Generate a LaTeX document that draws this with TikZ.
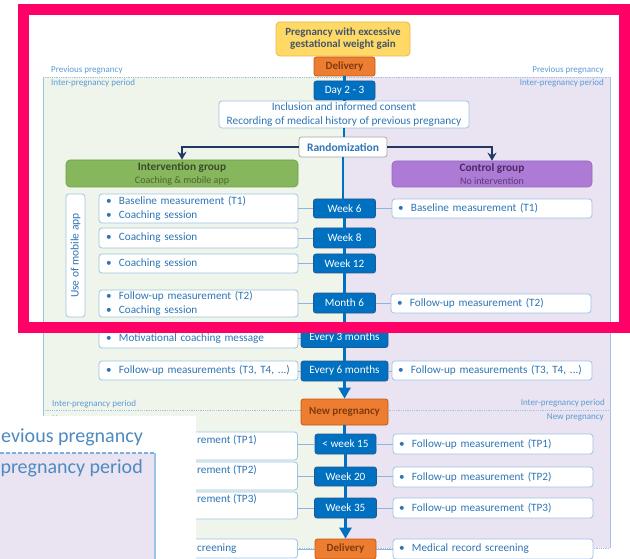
\documentclass[tikz,border=0pt]{standalone}
\usepackage{fontspec}
\setmainfont{Carlito}
\usetikzlibrary{arrows.meta}
\definecolor{pinkc}{HTML}{FF0066}
\definecolor{txtblue}{HTML}{2E75B6}
\definecolor{lblblue}{HTML}{5B9BD5}
\definecolor{bxborder}{HTML}{9DC3E6}
\definecolor{wkfill}{HTML}{0070C0}
\definecolor{wkborder}{HTML}{215A93}
\definecolor{orfill}{HTML}{ED7D31}
\definecolor{orborder}{HTML}{C55A11}
\definecolor{ortext}{HTML}{7F3A0E}
\definecolor{yefill}{HTML}{FFD966}
\definecolor{yeborder}{HTML}{EDB64F}
\definecolor{toptext}{HTML}{44546A}
\definecolor{navy}{HTML}{203864}
\definecolor{greenbg}{HTML}{EFF5EA}
\definecolor{purplebg}{HTML}{EAE4F2}
\definecolor{igfill}{HTML}{86B75C}
\definecolor{igborder}{HTML}{6E9E48}
\definecolor{igtitle}{HTML}{3B4A2C}
\definecolor{igsub}{HTML}{4D6433}
\definecolor{cgfill}{HTML}{AD7BD6}
\definecolor{cgborder}{HTML}{9566BF}
\definecolor{cgtitle}{HTML}{4B2A63}
\definecolor{cgsub}{HTML}{5A3B73}
\definecolor{connc}{HTML}{8FB4DD}
\newcommand\fsz[2]{\fontsize{#1}{#2}\selectfont}
\newcommand\bul{\makebox[13pt][l]{\textbullet}}
\begin{document}
\begin{tikzpicture}[x=1pt,y=-1pt,
  wbox/.style={draw=bxborder, fill=white, rounded corners=3pt, line width=0.8pt, inner sep=0pt, text=txtblue},
  lbox/.style={wbox, text width=185pt, inner xsep=7pt, align=left, font=\fsz{11.2}{14}},
  rbox/.style={wbox, text width=188pt, inner xsep=6pt, align=left, font=\fsz{11.2}{14}},
  cbox/.style={wbox, align=center, font=\fsz{11.3}{14}},
  frag/.style={text=txtblue, inner sep=0pt, font=\fsz{11.2}{14}},
  wkbox/.style={draw=wkborder, fill=wkfill, rounded corners=2.5pt, line width=0.8pt, inner sep=0pt, text=white, font=\fsz{11.2}{12}},
  orbox/.style={draw=orborder, fill=orfill, rounded corners=2.5pt, line width=0.8pt, inner sep=0pt, text=ortext, font=\bfseries\fsz{11}{12}},
  topbox/.style={draw=yeborder, fill=yefill, rounded corners=4pt, line width=0.8pt, inner sep=0pt, text=toptext, align=center, font=\bfseries\fsz{11}{12}},
  randbox/.style={draw=black!35, fill=white, rounded corners=2.5pt, line width=0.8pt, inner sep=0pt, text=txtblue, font=\bfseries\fsz{11.5}{12}},
  lbl/.style={text=lblblue, inner sep=0pt, font=\fsz{9}{10}},
  dotline/.style={draw=bxborder, line width=0.8pt, densely dotted},
  periodline/.style={draw=bxborder, line width=0.9pt},
  mainline/.style={draw=wkfill, line width=2.6pt},
  navyarrow/.style={draw=navy, line width=2pt, -{Stealth[length=8pt,width=9pt]}},
  conn/.style={draw=connc, line width=0.8pt},
  insettxt/.style={text=txtblue!85, inner sep=0pt, font=\fsz{20}{22}}
]
\useasboundingbox (0,0) rectangle (630,559);
\fill[white] (0,0) rectangle (630,559);
% period backgrounds
\fill[greenbg] (43,77) rectangle (344,548);
\fill[purplebg] (344,77) rectangle (610,548);
\draw[periodline] (43,77) -- (43,548);
\draw[periodline] (610,77) -- (610,548);
\draw[dotline] (43,77) -- (610,77);
\draw[dotline] (43,410) -- (610,410);
\draw[dotline] (43,548) -- (610,548);
% period labels
\node[lbl, anchor=west] (pl1) at (51,70) {Previous pregnancy};
\node[lbl, anchor=east] (pr1) at (604,70) {Previous pregnancy};
\node[lbl, anchor=west] (pl2) at (51,83) {Inter-pregnancy period};
\node[lbl, anchor=east] (pr2) at (604,83) {Inter-pregnancy period};
\node[lbl, anchor=west] (pl3) at (52,404) {Inter-pregnancy period};
\node[lbl, anchor=east] (pr3) at (605,403) {Inter-pregnancy period};
\node[lbl, anchor=west] (pl4) at (52,419) {New pregnancy};
\node[lbl, anchor=east] (pr4) at (604,417) {New pregnancy};
% top nodes
\node[topbox, minimum width=134pt, minimum height=34pt] (top) at (343,39) {Pregnancy with excessive\\gestational weight gain};
\node[orbox, minimum width=61pt, minimum height=19pt] (del1) at (344.5,66.5) {Delivery};
\node[wkbox, minimum width=61pt, minimum height=19pt] (day) at (344.5,90.5) {Day 2 - 3};
\node[cbox, minimum width=250pt, minimum height=27pt] (incl) at (344,114.5) {Inclusion and informed consent\\Recording of medical history of previous pregnancy};
\node[randbox, minimum width=88pt, minimum height=20pt] (rand) at (343,147) {Randomization};
% groups
\node[draw=igborder, fill=igfill, rounded corners=4pt, line width=0.6pt, minimum width=232pt, minimum height=27pt, inner sep=0pt, align=center, font=\fsz{11.3}{13}] (ig) at (182,173.5) {\textcolor{igtitle}{\bfseries Intervention group}\\\textcolor{igsub}{\fsz{10}{13}Coaching \& mobile app}};
\node[draw=cgborder, fill=cgfill, rounded corners=4pt, line width=0.6pt, minimum width=200pt, minimum height=26pt, inner sep=0pt, align=center, font=\fsz{11.3}{13}] (cg) at (492,174) {\textcolor{cgtitle}{\bfseries Control group}\\\textcolor{cgsub}{\fsz{10}{13}No intervention}};
\node[wbox, rotate=90, minimum width=123pt, minimum height=19pt, font=\fsz{11.5}{12}] (app) at (75.5,255.5) {Use of mobile app};
% left boxes
\node[lbox, minimum height=29pt] (l1) at (198.5,208.5) {\bul Baseline measurement (T1)\\\bul Coaching session};
\node[lbox, minimum height=20pt] (l2) at (198.5,238) {\bul Coaching session};
\node[lbox, minimum height=19pt] (l3) at (198.5,263.5) {\bul Coaching session};
\node[lbox, minimum height=27pt] (l4) at (198.5,303.5) {\bul Follow-up measurement (T2)\\\bul Coaching session};
\node[lbox, minimum height=19pt] (l5) at (198.5,338.5) {\bul Motivational coaching message};
\node[lbox, minimum height=19pt] (l6) at (198.5,370.5) {\bul Follow-up measurements (T3, T4, ...)};
\node[lbox, minimum height=28pt] (l7) at (198,446) {};
\node[lbox, minimum height=28pt] (l8) at (198,476) {};
\node[lbox, minimum height=27pt] (l9) at (198,505.5) {};
\node[lbox, minimum height=19pt] (l10) at (198,548.5) {};
% center boxes
\node[wkbox, minimum width=62pt, minimum height=19pt] (wk6) at (344.5,208.5) {Week 6};
\node[wkbox, minimum width=62pt, minimum height=20pt] (wk8) at (344.5,238) {Week 8};
\node[wkbox, minimum width=62pt, minimum height=19pt] (wk12) at (344.5,263.5) {Week 12};
\node[wkbox, minimum width=62pt, minimum height=20pt] (m6) at (344.5,303) {Month 6};
\node[wkbox, minimum width=87pt, minimum height=19pt] (e3) at (344.5,338) {Every 3 months};
\node[wkbox, minimum width=87pt, minimum height=20pt] (e6) at (344.5,371) {Every 6 months};
\node[orbox, minimum width=87pt, minimum height=26pt] (newp) at (344.5,412) {New pregnancy};
\node[wkbox, minimum width=61pt, minimum height=20pt] (wk15) at (345.5,444) {\textless{} week 15};
\node[wkbox, minimum width=62pt, minimum height=19pt] (wk20) at (345.5,476.5) {Week 20};
\node[wkbox, minimum width=62pt, minimum height=20pt] (wk35) at (345.5,508) {Week 35};
\node[orbox, minimum width=61pt, minimum height=20pt] (del2) at (345.5,549) {Delivery};
% right boxes
\node[rbox, minimum height=19pt] (r1) at (492,208.5) {\bul Baseline measurement (T1)};
\node[rbox, minimum height=19pt] (r2) at (491,303.5) {\bul Follow-up measurement (T2)};
\node[rbox, minimum height=19pt] (r3) at (492,370.5) {\bul Follow-up measurements (T3, T4, ...)};
\node[rbox, minimum height=20pt] (r4) at (493,444) {\bul Follow-up measurement (TP1)};
\node[rbox, minimum height=20pt] (r5) at (493,477) {\bul Follow-up measurement (TP2)};
\node[rbox, minimum height=20pt] (r6) at (493,508) {\bul Follow-up measurement (TP3)};
\node[rbox, minimum height=20pt] (r7) at (493,549) {\bul Medical record screening};
% central timeline
\foreach \a/\b in {del1/day, day/incl, incl/rand, rand/wk6, wk6/wk8, wk8/wk12, wk12/m6, m6/e3, e3/e6, newp/wk15, wk15/wk20, wk20/wk35}
  \draw[mainline] (\a.south) -- (\a.south |- \b.north);
\draw[mainline, -{Triangle[length=11pt,width=12pt]}] (e6.south) -- (e6.south |- newp.north);
\draw[mainline, -{Triangle[length=11pt,width=12pt]}] (wk35.south) -- (wk35.south |- del2.north);
% randomization arrows
\draw[navyarrow] (rand.west) -| (ig.north);
\draw[navyarrow] (rand.east) -| (cg.north);
% connectors
\foreach \a/\b in {l1/wk6, l2/wk8, l3/wk12, l4/m6, l5/e3, l6/e6, l7/wk15, l8/wk20, l9/wk35, l10/del2}
  \draw[conn] (\b.west) -- (\b.west -| \a.east);
\foreach \a/\b in {wk6/r1, m6/r2, e6/r3, wk15/r4, wk20/r5, wk35/r6, del2/r7}
  \draw[conn] (\a.east) -- (\a.east -| \b.west);
% zoom inset overlay
\fill[white] (0,416) rectangle (196,559);
\fill[purplebg] (0,453) rectangle (155,559);
\draw[draw=lblblue!80, line width=1.5pt, dash pattern=on 4pt off 2pt] (0,453) -- (155,453);
\draw[draw=bxborder, line width=1.5pt] (155,453) -- (155,559);
\node[insettxt, anchor=east] (insA) at (143,437) {evious pregnancy};
\node[insettxt, anchor=east] (insB) at (143,468) {pregnancy period};
% visible fragments of the partly covered boxes
\node[frag, anchor=west] (f7) at (197,440) {rement (TP1)};
\node[frag, anchor=west] (f8) at (197,470) {rement (TP2)};
\node[frag, anchor=west] (f9) at (197,499) {rement (TP3)};
\node[frag, anchor=west] (f10) at (197,548.5) {creening};
% highlight frame
\draw[pinkc, line width=11.5pt] (23.25,9.75) rectangle (624.5,327.25);
\end{tikzpicture}
\end{document}
